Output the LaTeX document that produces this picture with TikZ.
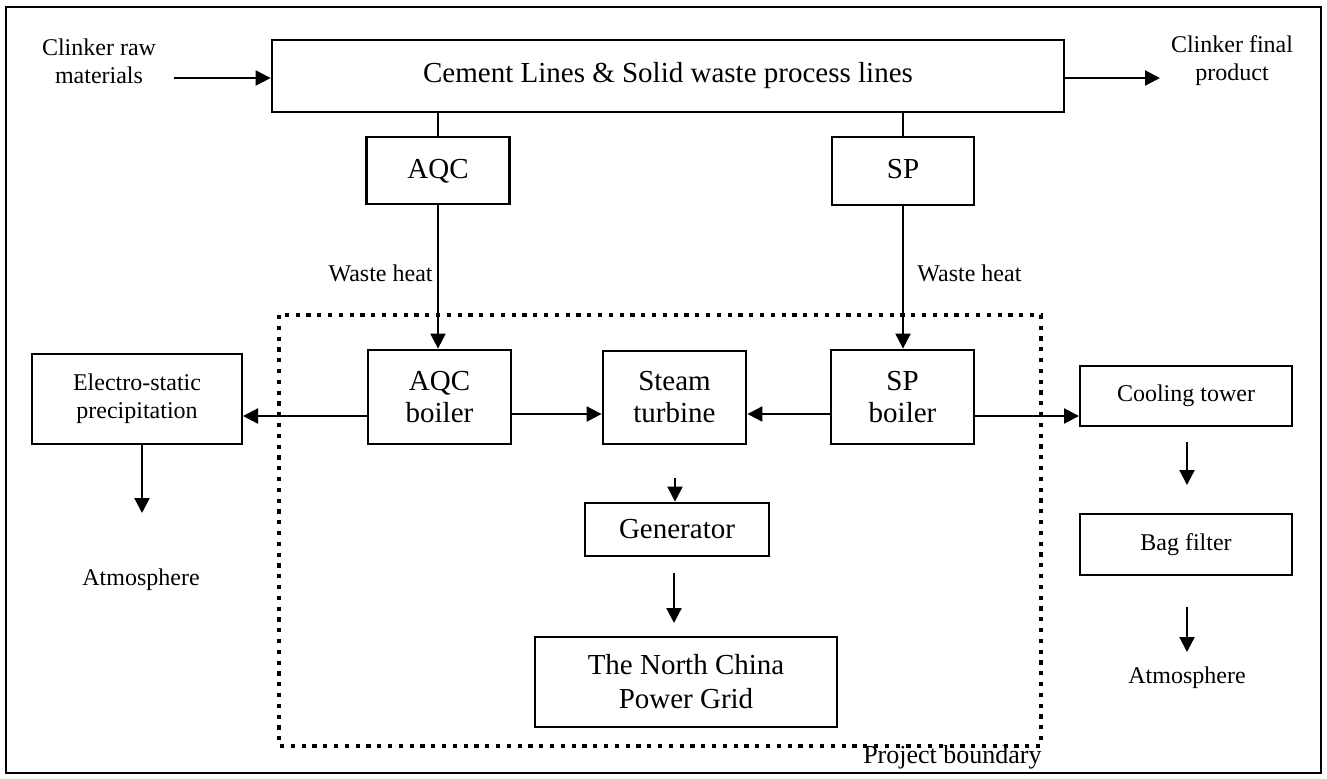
\documentclass[tikz,border=0pt]{standalone}
\usepackage{fontspec}
\setmainfont{Liberation Serif}
\usetikzlibrary{arrows.meta}
\begin{document}
\begin{tikzpicture}[x=0.5pt,y=-0.5pt,
  big/.style={font=\fontsize{14.5}{16}\selectfont},
  small/.style={font=\fontsize{12}{14}\selectfont},
  box/.style={draw,line width=1.4pt,align=center,inner sep=0pt,big},
  sbox/.style={draw,line width=1pt,align=center,inner sep=0pt,small},
  lbl/.style={align=center,inner sep=0pt,small},
  arr/.style={line width=1.1pt,-{Triangle[length=7.5pt,width=7.5pt]}},
  ln/.style={line width=1.4pt},
  boundary/.style={line width=2.3pt,dash pattern=on 2.1pt off 3.3pt}]
\useasboundingbox (0,0) rectangle (1327,778);
\draw[line width=1pt] (6,7) rectangle (1321,773);

% nodes
\node[box,minimum width=396pt,minimum height=36pt] (main) at (668,76) {Cement Lines \& Solid waste process lines};
\node[box,minimum width=71.5pt,minimum height=33.5pt,text depth=2pt] (aqc) at (438,170.5) {AQC};
\node[box,minimum width=71pt,minimum height=34pt,text depth=2pt] (sp) at (903,171) {SP};
\node[box,minimum width=71.5pt,minimum height=47pt] (aqcb) at (439.5,397) {AQC\\boiler};
\node[box,minimum width=71.5pt,minimum height=46.5pt] (st) at (674.5,397.5) {Steam\\turbine};
\node[box,minimum width=71.5pt,minimum height=47pt] (spb) at (902.5,397) {SP\\boiler};
\node[sbox,minimum width=105pt,minimum height=45pt] (esp) at (137,399) {Electro-static\\precipitation};
\node[sbox,minimum width=106pt,minimum height=30pt] (ct) at (1186,396) {Cooling tower};
\node[sbox,minimum width=106pt,minimum height=30.5pt] (bf) at (1186,544.5) {Bag filter};
\node[box,minimum width=92pt,minimum height=26.5pt] (gen) at (677,529.5) {Generator};
\node[box,minimum width=151pt,minimum height=45pt,font=\fontsize{14.5}{17}\selectfont] (grid) at (686,682) {The North China\\Power Grid};

\node[lbl] (raw) at (99,61) {Clinker raw\\materials};
\node[lbl] (fin) at (1232,61) {Clinker final\\product};
\node[lbl] (atmL) at (141,580) {Atmosphere};
\node[lbl] (atmR) at (1187,678) {Atmosphere};
\node[lbl,anchor=east] (wh1) at (433,273) {Waste heat};
\node[lbl,anchor=west] (wh2) at (917,273) {Waste heat};

% project boundary
\draw[boundary] (279,315) rectangle (1041,746);
\node[lbl,anchor=east,font=\fontsize{13}{15}\selectfont] (pb) at (1042,757) {Project boundary};

% coordinates for free ends / rows
\coordinate (rawA) at (174,78);
\coordinate (finA) at (1160,78);
\coordinate (rowL) at (0,416);
\coordinate (rowM) at (0,414);
\coordinate (espA) at (142,444);
\coordinate (espB) at (142,513);
\coordinate (ctA) at (1187,442);
\coordinate (ctB) at (1187,485);
\coordinate (bfA) at (1187,607);
\coordinate (bfB) at (1187,652);
\coordinate (stA) at (675,478);
\coordinate (genA) at (674,573);
\coordinate (genB) at (674,623);

% connectors
\draw[arr] (rawA) -- (main.west |- rawA);
\draw[arr] (main.east |- finA) -- (finA);
\draw[ln] (aqc.north) -- (aqc.north |- main.south);
\draw[ln] (sp.north) -- (sp.north |- main.south);
\draw[arr] (aqc.south) -- (aqc.south |- aqcb.north);
\draw[arr] (sp.south) -- (sp.south |- spb.north);
\draw[arr] (aqcb.west |- rowL) -- (esp.east |- rowL);
\draw[arr] (aqcb.east |- rowM) -- (st.west |- rowM);
\draw[arr] (spb.west |- rowM) -- (st.east |- rowM);
\draw[arr] (spb.east |- rowL) -- (ct.west |- rowL);
\draw[arr] (espA) -- (espB);
\draw[arr] (ctA) -- (ctB);
\draw[arr] (bfA) -- (bfB);
\draw[arr] (stA) -- (gen.north -| stA);
\draw[arr] (genA) -- (genB);
\end{tikzpicture}
\end{document}
